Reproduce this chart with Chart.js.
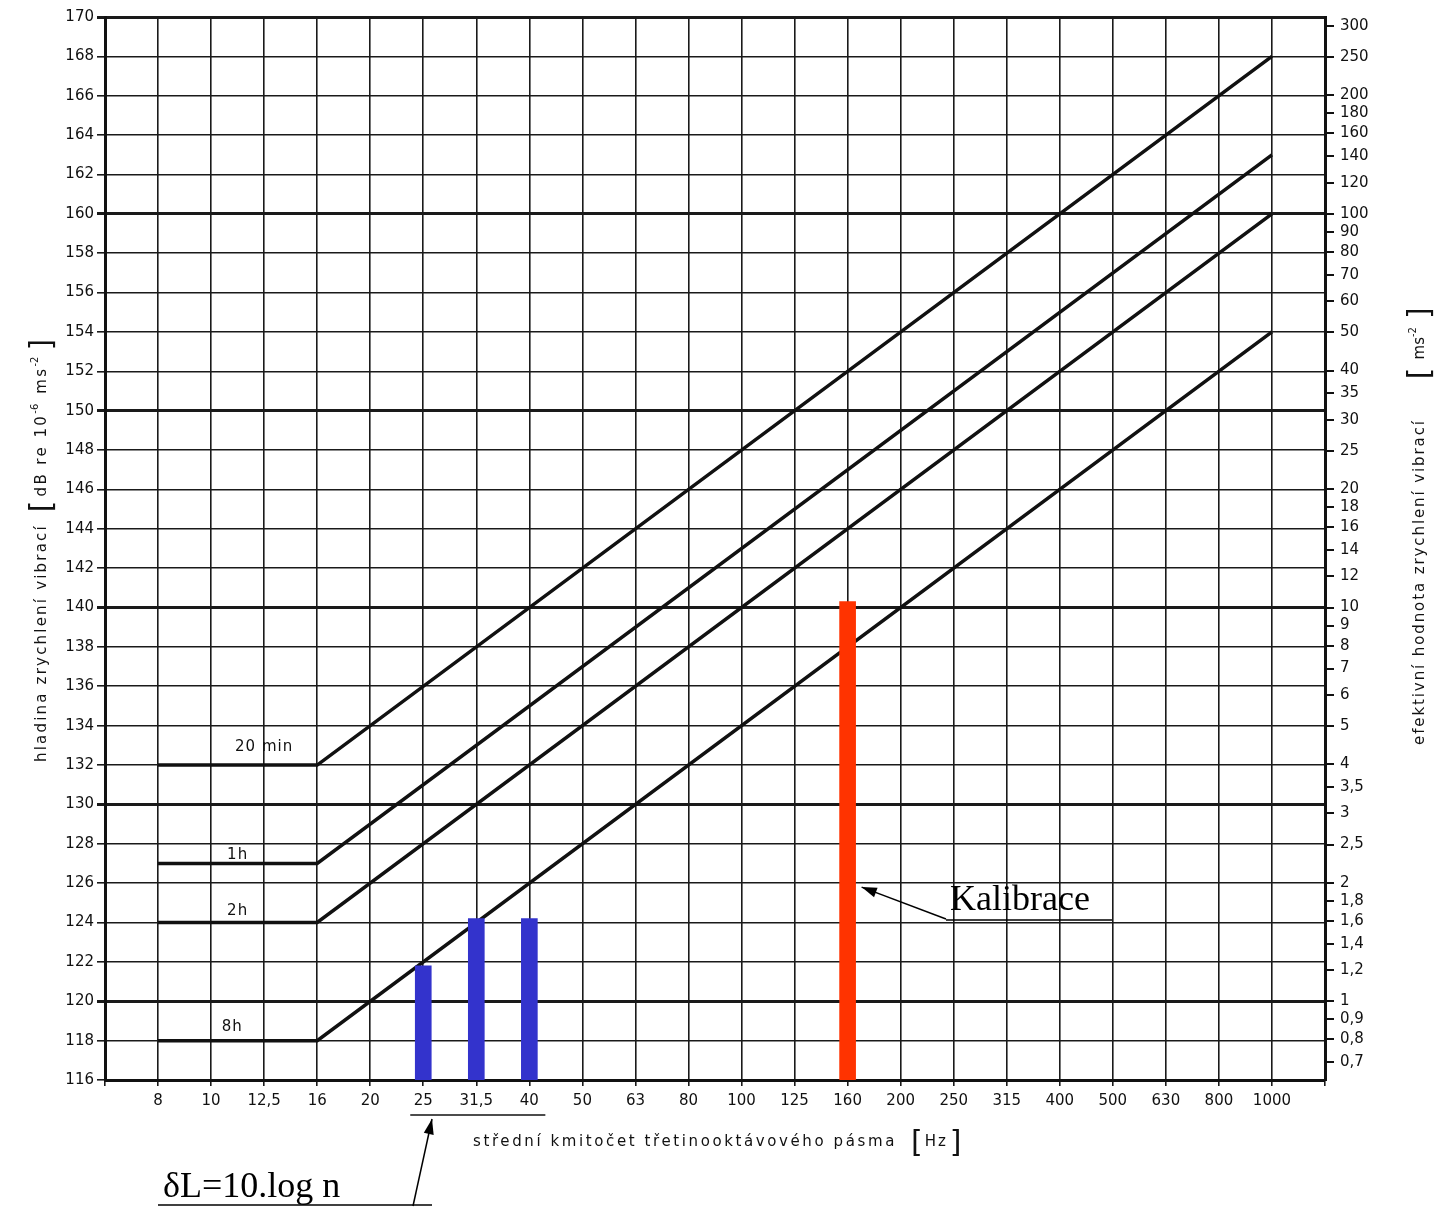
<!DOCTYPE html>
<html>
<head>
<meta charset="utf-8">
<script src="https://cdn.jsdelivr.net/npm/chart.js@4.4.1/dist/chart.umd.min.js"></script>
<style>
html, body { margin: 0; padding: 0; background: #fff; }
#wrap { width: 1436px; height: 1207px; }
</style>
</head>
<body>
<div id="wrap"><canvas id="chart" width="1436" height="1207"></canvas></div>
<script>
// third-octave centre frequencies (x axis, one slot each)
const freqLabels = ['8', '10', '12,5', '16', '20', '25', '31,5', '40', '50', '63', '80',
  '100', '125', '160', '200', '250', '315', '400', '500', '630', '800', '1000'];

// limit curves: flat up to 16 Hz, then rising to 1000 Hz
const curveIdx = [0, 3, 21];
const limit20min = [132, 132, 168];
const limit1h = [127, 127, 163];
const limit2h = [124, 124, 160];
const limit8h = [118, 118, 154];

// measured bands (blue) and calibration (red)
const measIdx = [5, 6, 7];
const measLevel = [121.8, 124.2, 124.2];
const calIdx = [13];
const calLevel = [140.3];

// right axis: acceleration in m/s^2 (0 dB = 1e-6 m/s^2)
const accelValues = [300, 250, 200, 180, 160, 140, 120, 100, 90, 80, 70, 60, 50, 40, 35, 30,
  25, 20, 18, 16, 14, 12, 10, 9, 8, 7, 6, 5, 4, 3.5, 3, 2.5, 2, 1.8, 1.6, 1.4, 1.2, 1, 0.9, 0.8, 0.7];
const accelLabels = ['300', '250', '200', '180', '160', '140', '120', '100', '90', '80', '70', '60', '50', '40', '35', '30',
  '25', '20', '18', '16', '14', '12', '10', '9', '8', '7', '6', '5', '4', '3,5', '3', '2,5', '2', '1,8', '1,6', '1,4', '1,2', '1', '0,9', '0,8', '0,7'];

const toPts = (xs, ys) => xs.map((v, i) => ({x: v, y: ys[i]}));
const lineStyle = {type: 'line', borderColor: '#111', borderWidth: 3.5, pointRadius: 0, fill: false, order: 2, tension: 0};

const drawArrow = (ctx, x1, y1, x2, y2) => {
  ctx.beginPath(); ctx.moveTo(x1, y1); ctx.lineTo(x2, y2); ctx.stroke();
  const a = Math.atan2(y2 - y1, x2 - x1);
  ctx.beginPath();
  ctx.moveTo(x2, y2);
  ctx.lineTo(x2 - 16 * Math.cos(a - 0.32), y2 - 16 * Math.sin(a - 0.32));
  ctx.lineTo(x2 - 16 * Math.cos(a + 0.32), y2 - 16 * Math.sin(a + 0.32));
  ctx.closePath(); ctx.fill();
};

// draws text pieces one after another (for superscripts / brackets)
const drawRuns = (ctx, runs) => {
  let cx = 0;
  runs.forEach(r => {
    ctx.font = r.font;
    ctx.letterSpacing = r.sp || '0px';
    ctx.fillText(r.t, cx, r.dy || 0);
    cx += ctx.measureText(r.t).width + (r.gap || 0);
  });
};

const annotations = {
  id: 'annotations',
  afterDraw(chart) {
    const {ctx, scales: {x, y}} = chart;
    ctx.save();
    ctx.fillStyle = '#111';
    ctx.strokeStyle = '#111';

    // curve names
    ctx.font = '15px "DejaVu Sans"';
    ctx.letterSpacing = '1px';
    ctx.textAlign = 'center';
    ctx.textBaseline = 'middle';
    [['20 min', 2.0, 132.9], ['1h', 1.5, 127.4], ['2h', 1.5, 124.6], ['8h', 1.4, 118.7]].forEach(([t, i, v]) => {
      ctx.fillText(t, x.getPixelForValue(i), y.getPixelForValue(v));
    });

    // bracket under 25..40
    ctx.lineWidth = 1.5;
    ctx.beginPath();
    ctx.moveTo(x.getPixelForValue(5) - 13, 1115);
    ctx.lineTo(x.getPixelForValue(7) + 16, 1115);
    ctx.stroke();

    // x axis title
    ctx.textAlign = 'left';
    ctx.textBaseline = 'alphabetic';
    ctx.save();
    ctx.translate(473, 1146);
    drawRuns(ctx, [
      {t: 'střední kmitočet třetinooktávového pásma', font: '15px "DejaVu Sans"', sp: '2.6px', gap: 14},
      {t: '[', font: '30px "DejaVu Sans"', dy: 6, gap: 2},
      {t: 'Hz', font: '15px "DejaVu Sans"', sp: '2px', gap: 2},
      {t: ']', font: '30px "DejaVu Sans"', dy: 6}
    ]);
    ctx.restore();

    // left axis title
    ctx.save();
    ctx.translate(46, 762);
    ctx.rotate(-Math.PI / 2);
    drawRuns(ctx, [
      {t: 'hladina zrychlení vibrací', font: '15px "DejaVu Sans"', sp: '2.2px', gap: 12},
      {t: '[', font: '30px "DejaVu Sans"', dy: 5, gap: 4},
      {t: 'dB re 10', font: '15px "DejaVu Sans"', sp: '2.4px'},
      {t: '-6', font: '10px "DejaVu Sans"', dy: -8, gap: 10},
      {t: 'ms', font: '15px "DejaVu Sans"', sp: '2.4px'},
      {t: '-2', font: '10px "DejaVu Sans"', dy: -8, gap: 6},
      {t: ']', font: '30px "DejaVu Sans"', dy: 5}
    ]);
    ctx.restore();

    // right axis title
    ctx.save();
    ctx.translate(1424, 745);
    ctx.rotate(-Math.PI / 2);
    drawRuns(ctx, [
      {t: 'efektivní hodnota zrychlení vibrací', font: '15px "DejaVu Sans"', sp: '1.9px', gap: 40},
      {t: '[', font: '30px "DejaVu Sans"', dy: 5, gap: 8},
      {t: 'ms', font: '15px "DejaVu Sans"'},
      {t: '-2', font: '10px "DejaVu Sans"', dy: -8, gap: 8},
      {t: ']', font: '30px "DejaVu Sans"', dy: 5}
    ]);
    ctx.restore();

    // Kalibrace note
    ctx.font = '36px "Liberation Serif"';
    ctx.letterSpacing = '0px';
    ctx.fillStyle = '#000';
    ctx.strokeStyle = '#000';
    ctx.fillText('Kalibrace', 950, 910);
    ctx.lineWidth = 1.5;
    ctx.beginPath(); ctx.moveTo(946, 920); ctx.lineTo(1112, 920); ctx.stroke();
    drawArrow(ctx, 946, 919, x.getPixelForValue(13) + 14, y.getPixelForValue(125.8));

    // delta L note
    ctx.fillText('δL=10.log n', 163, 1197);
    ctx.beginPath(); ctx.moveTo(158, 1205); ctx.lineTo(432, 1205); ctx.stroke();
    drawArrow(ctx, 413, 1206, 432, 1119);

    ctx.restore();
  }
};

const ctx = document.getElementById('chart').getContext('2d');
const chart = new Chart(ctx, {
  type: 'line',
  data: {
    datasets: [
      {...lineStyle, label: '20 min', data: toPts(curveIdx, limit20min)},
      {...lineStyle, label: '1h', data: toPts(curveIdx, limit1h)},
      {...lineStyle, label: '2h', data: toPts(curveIdx, limit2h)},
      {...lineStyle, label: '8h', data: toPts(curveIdx, limit8h)},
      {type: 'bar', label: 'měření', data: toPts(measIdx, measLevel), backgroundColor: '#3333CC',
        barThickness: 16, grouped: false, order: 0},
      {type: 'bar', label: 'Kalibrace', data: toPts(calIdx, calLevel), backgroundColor: '#FF3300',
        barThickness: 16, grouped: false, order: 0}
    ]
  },
  options: {
    responsive: false,
    animation: false,
    devicePixelRatio: 1,
    layout: {padding: {top: 17, left: 0, right: 0, bottom: 0}},
    plugins: {legend: {display: false}, tooltip: {enabled: false}},
    scales: {
      x: {
        type: 'linear',
        min: -1,
        max: 22,
        offset: false,
        afterFit: s => { s.height = 127; },
        ticks: {
          stepSize: 1,
          autoSkip: false,
          maxRotation: 0,
          padding: 6,
          color: '#111',
          font: {family: 'DejaVu Sans', size: 15},
          callback: v => freqLabels[v] ?? ''
        },
        grid: {offset: false, color: '#1a1a1a', lineWidth: 1.6, tickLength: 6},
        border: {color: '#111', width: 3}
      },
      y: {
        type: 'linear',
        position: 'left',
        min: 116,
        max: 170,
        afterFit: s => { s.width = 105; },
        ticks: {stepSize: 2, color: '#111', padding: 3, font: {family: 'DejaVu Sans', size: 15}},
        grid: {
          color: '#1a1a1a',
          lineWidth: c => (c.tick && c.tick.value % 10 === 0) ? 3 : 1.6,
          tickLength: 8
        },
        border: {color: '#111', width: 3}
      },
      y2: {
        type: 'linear',
        position: 'right',
        min: 116,
        max: 170,
        afterFit: s => { s.width = 111; },
        afterBuildTicks: s => { s.ticks = accelValues.map(a => ({value: 120 + 20 * Math.log10(a)})); },
        ticks: {
          autoSkip: false,
          color: '#111',
          padding: 6,
          font: {family: 'DejaVu Sans', size: 15},
          callback: (v, i) => accelLabels[i]
        },
        grid: {drawOnChartArea: false, color: '#111', lineWidth: 2, tickLength: 9},
        border: {color: '#111', width: 3}
      }
    }
  },
  plugins: [annotations]
});
</script>
</body>
</html>
